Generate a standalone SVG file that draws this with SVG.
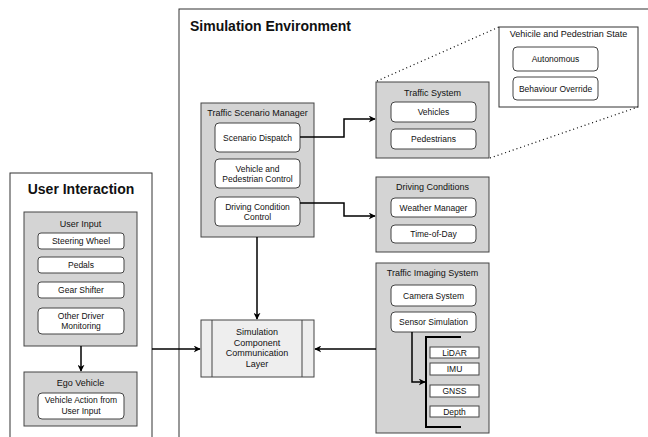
<svg xmlns="http://www.w3.org/2000/svg" width="648" height="437" viewBox="0 0 648 437">
<defs>
<style>
text{font-family:"Liberation Sans",Arial,sans-serif;fill:#111;text-anchor:middle;dominant-baseline:central}
.title{font-size:14px;font-weight:bold;text-anchor:start;dominant-baseline:auto}
.ctitle{font-size:14px;font-weight:bold;dominant-baseline:auto}
.outer{fill:#fff;stroke:#333;stroke-width:1}
.cont{fill:#d4d4d4;stroke:#444;stroke-width:1}
.item{fill:#fff;stroke:#444;stroke-width:1}
.lbl{font-size:9px}
.ilbl{font-size:8.5px}
.conn{fill:none;stroke:#000;stroke-width:1.5}
.dot{fill:none;stroke:#000;stroke-width:1.2;stroke-dasharray:1 3}
</style>
<marker id="ah" viewBox="0 0 10 10" refX="9" refY="5" markerWidth="7" markerHeight="7" markerUnits="userSpaceOnUse" orient="auto"><path d="M0,0 L10,5 L0,10 L3,5 z" fill="#000"/></marker>
</defs>
<rect width="648" height="437" fill="#fff"/>

<g id="user-interaction">
<rect class="outer" x="10" y="173" width="142" height="280"/>
<text class="ctitle" x="81" y="194">User Interaction</text>
</g>
<g id="sim-env">
<rect class="outer" x="179" y="9" width="480" height="440"/>
<text class="title" x="190" y="31">Simulation Environment</text>
</g>

<g id="user-input">
<rect class="cont" x="24" y="212" width="113" height="134"/>
<text class="lbl" x="80.5" y="224">User Input</text>
<rect class="item" x="38" y="233" width="86" height="16" rx="3"/>
<text class="ilbl" x="81" y="241">Steering Wheel</text>
<rect class="item" x="38" y="257" width="86" height="16" rx="3"/>
<text class="ilbl" x="81" y="265">Pedals</text>
<rect class="item" x="38" y="282" width="86" height="16" rx="3"/>
<text class="ilbl" x="81" y="290">Gear Shifter</text>
<rect class="item" x="38" y="308" width="86" height="26" rx="4"/>
<text class="ilbl" x="81" y="315.5">Other Driver</text>
<text class="ilbl" x="81" y="326">Monitoring</text>
</g>

<g id="ego-vehicle">
<rect class="cont" x="24" y="372" width="113" height="54"/>
<text class="lbl" x="80.5" y="383">Ego Vehicle</text>
<rect class="item" x="38" y="393" width="86" height="26" rx="4"/>
<text class="ilbl" x="81" y="400">Vehicle Action from</text>
<text class="ilbl" x="81" y="410.5">User Input</text>
</g>

<g id="traffic-scenario-manager">
<rect class="cont" x="201" y="103" width="113" height="134"/>
<text class="lbl" x="257.5" y="113">Traffic Scenario Manager</text>
<rect class="item" x="215" y="123" width="85" height="29" rx="4"/>
<text class="ilbl" x="257.5" y="137.5">Scenario Dispatch</text>
<rect class="item" x="215" y="159" width="85" height="29" rx="4"/>
<text class="ilbl" x="257.5" y="168.5">Vehicle and</text>
<text class="ilbl" x="257.5" y="178.5">Pedestrian Control</text>
<rect class="item" x="215" y="197" width="85" height="29" rx="4"/>
<text class="ilbl" x="257.5" y="206.5">Driving Condition</text>
<text class="ilbl" x="257.5" y="216.5">Control</text>
</g>

<g id="traffic-system">
<rect class="cont" x="376" y="82" width="113" height="76"/>
<text class="lbl" x="432.5" y="93">Traffic System</text>
<rect class="item" x="391" y="102" width="85" height="20" rx="4"/>
<text class="ilbl" x="433.5" y="112">Vehicles</text>
<rect class="item" x="391" y="129" width="85" height="20" rx="4"/>
<text class="ilbl" x="433.5" y="139">Pedestrians</text>
</g>

<g id="vehicle-pedestrian-state">
<rect class="outer" x="499" y="27" width="139" height="80"/>
<text class="lbl" x="568.5" y="34">Vehicile and Pedestrian State</text>
<rect class="item" x="513" y="47" width="85" height="24" rx="4"/>
<text class="ilbl" x="555.5" y="59">Autonomous</text>
<rect class="item" x="513" y="77" width="85" height="23" rx="4"/>
<text class="ilbl" x="555.5" y="88.5">Behaviour Override</text>
</g>

<g id="driving-conditions">
<rect class="cont" x="376" y="177" width="113" height="75"/>
<text class="lbl" x="432.5" y="187">Driving Conditions</text>
<rect class="item" x="391" y="198" width="85" height="19" rx="4"/>
<text class="ilbl" x="433.5" y="207.5">Weather Manager</text>
<rect class="item" x="391" y="225" width="85" height="18" rx="4"/>
<text class="ilbl" x="433.5" y="234">Time-of-Day</text>
</g>

<g id="traffic-imaging-system">
<rect class="cont" x="376" y="263" width="113" height="170"/>
<text class="lbl" x="432.5" y="273">Traffic Imaging System</text>
<rect class="item" x="391" y="285" width="85" height="21" rx="4"/>
<text class="ilbl" x="433.5" y="295.5">Camera System</text>
<rect class="item" x="391" y="312" width="85" height="20" rx="4"/>
<text class="ilbl" x="433.5" y="322">Sensor Simulation</text>
<path d="M461,337 H426 V427 H461" fill="none" stroke="#000" stroke-width="2"/>
<rect class="item" x="430" y="347" width="49" height="11"/>
<text class="ilbl" x="454.5" y="352.5">LiDAR</text>
<rect class="item" x="430" y="363" width="49" height="12"/>
<text class="ilbl" x="454.5" y="369">IMU</text>
<rect class="item" x="430" y="385" width="49" height="12"/>
<text class="ilbl" x="454.5" y="391">GNSS</text>
<rect class="item" x="430" y="406" width="49" height="11"/>
<text class="ilbl" x="454.5" y="411.5">Depth</text>
</g>

<g id="comm-layer">
<rect x="201" y="320" width="113" height="57" fill="#eeeeee" stroke="#444"/>
<line x1="212" y1="320" x2="212" y2="377" stroke="#444"/>
<line x1="302" y1="320" x2="302" y2="377" stroke="#444"/>
<text class="lbl" x="257" y="332">Simulation</text>
<text class="lbl" x="257" y="342.5">Component</text>
<text class="lbl" x="257" y="353">Communication</text>
<text class="lbl" x="257" y="364">Layer</text>
</g>

<g id="connectors">
<path class="conn" d="M81,346 V371" marker-end="url(#ah)"/>
<path class="conn" d="M152,349 H200" marker-end="url(#ah)"/>
<path class="conn" d="M376,349 H315" marker-end="url(#ah)"/>
<path class="conn" d="M257,237 V319" marker-end="url(#ah)"/>
<path class="conn" d="M300,137 H344 V119 H375" marker-end="url(#ah)"/>
<path class="conn" d="M300,203 H344 V216 H375" marker-end="url(#ah)"/>
<path class="conn" d="M412,332 V382 H425" marker-end="url(#ah)"/>
<path class="dot" d="M377,81 L499,27"/>
<path class="dot" d="M490,158 L638,107"/>
</g>
</svg>
